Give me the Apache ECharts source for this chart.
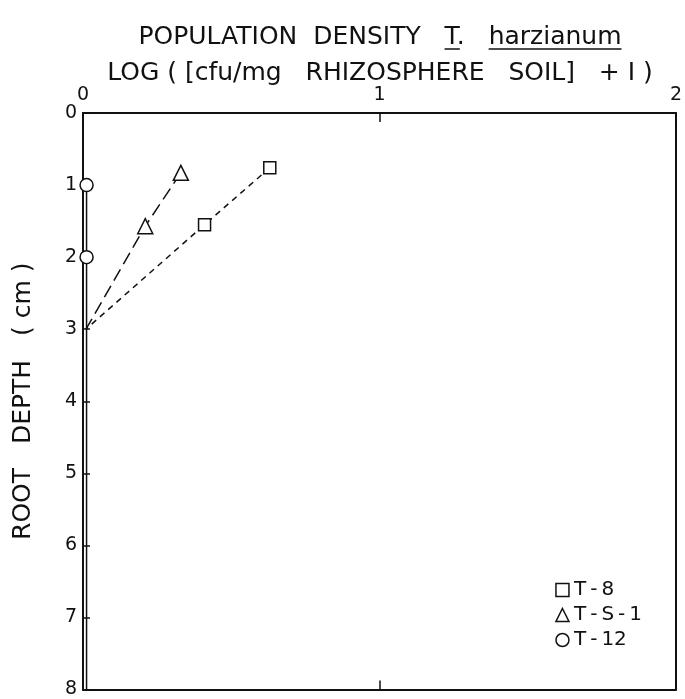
<!DOCTYPE html>
<html>
<head>
<meta charset="utf-8">
<script src="https://cdn.jsdelivr.net/npm/echarts@6/dist/echarts.min.js"></script>
<style>
  html, body { margin: 0; padding: 0; background: #fff; }
  #chart { width: 685px; height: 699px; }
</style>
</head>
<body>
<div id="chart"></div>
<script>
// log(cfu/mg + 1) vs root depth (cm)
var t8 = [[0.63, 0.76], [0.41, 1.55], [0.01, 3.0]];
var tS1 = [[0.33, 0.83], [0.21, 1.57], [0.01, 3.0]];
var t12 = [[0.012, 1], [0.012, 2], [0.012, 8]];
var seriesNames = ['T-8', 'T-S-1', 'T-12'];
var xTicks = ['0', '1', '2'];
var yTicks = ['0', '1', '2', '3', '4', '5', '6', '7', '8'];

var font = 'DejaVu Sans';
var titleSize = 25;
var titleX = 375;
var chart = echarts.init(document.getElementById('chart'), null, { renderer: 'canvas' });

// title pieces, measured so the underlines sit under "T" and "harzianum"
var pre = 'POPULATION  DENSITY   ', tWord = 'T', dot = '.', gap = '   ', hWord = 'harzianum';
var ctx = document.createElement('canvas').getContext('2d');
ctx.font = titleSize + 'px "' + font + '"';
function w(s) { return ctx.measureText(s).width; }
var line1W = w(pre + tWord + dot + gap + hWord);
var x0 = titleX + 5 - line1W / 2; // title padding is 5
var tx0 = x0 + w(pre), tx1 = tx0 + w(tWord);
var hx0 = x0 + w(pre + tWord + dot + gap), hx1 = hx0 + w(hWord);
var ulY = 49;

var option = {
  backgroundColor: '#fff',
  animation: false,
  title: {
    text: pre + tWord + dot + gap + hWord + '\nLOG ( [cfu/mg   RHIZOSPHERE   SOIL]   + I )',
    left: titleX,
    top: 14,
    textAlign: 'center',
    textStyle: {
      fontFamily: font,
      fontWeight: 'normal',
      fontSize: titleSize,
      lineHeight: 36,
      color: '#111'
    }
  },
  graphic: [
    { type: 'line', shape: { x1: tx0, y1: ulY, x2: tx1, y2: ulY }, style: { stroke: '#111', lineWidth: 1.5 } },
    { type: 'line', shape: { x1: hx0, y1: ulY, x2: hx1, y2: ulY }, style: { stroke: '#111', lineWidth: 1.5 } }
  ],
  legend: {
    orient: 'vertical',
    right: 38,
    bottom: 44,
    itemWidth: 13,
    itemHeight: 13,
    itemGap: 5,
    textStyle: { fontFamily: font, fontSize: 20, color: '#111' },
    formatter: function (name) { return name.replace(/-/g, '\u2009-\u2009'); },
    itemStyle: { color: '#fff', borderColor: '#111', borderWidth: 1.5 },
    data: [
      { name: seriesNames[0], icon: 'rect' },
      { name: seriesNames[1], icon: 'triangle' },
      { name: seriesNames[2], icon: 'circle' }
    ]
  },
  grid: { left: 83, right: 6, top: 113, bottom: 7 },
  xAxis: [{
    type: 'value',
    position: 'top',
    min: 0, max: 2, interval: 1,
    axisLine: { onZero: false, lineStyle: { color: '#111', width: 2 } },
    axisTick: { inside: true, length: 9, lineStyle: { color: '#111', width: 1.5 } },
    axisLabel: {
      fontFamily: font, fontSize: 19, color: '#111', margin: 8,
      formatter: function (v) { return xTicks[v]; }
    },
    splitLine: { show: false }
  }, {
    type: 'value',
    position: 'bottom',
    min: 0, max: 2, interval: 1,
    axisLine: { show: true, onZero: false, lineStyle: { color: '#111', width: 2 } },
    axisTick: { show: true, inside: true, length: 9, lineStyle: { color: '#111', width: 1.5 } },
    axisLabel: { show: false },
    splitLine: { show: false }
  }],
  yAxis: [{
    type: 'value',
    inverse: true,
    min: 0, max: 8, interval: 1,
    name: 'ROOT   DEPTH   ( cm )',
    nameLocation: 'middle',
    nameGap: 47,
    nameRotate: 90,
    nameTextStyle: { fontFamily: font, fontSize: 25, color: '#111' },
    axisLine: { onZero: false, lineStyle: { color: '#111', width: 2 } },
    axisTick: { inside: true, length: 7, lineStyle: { color: '#111', width: 1.5 } },
    axisLabel: {
      fontFamily: font, fontSize: 19, color: '#111', margin: 6,
      formatter: function (v) { return yTicks[v]; }
    },
    splitLine: { show: false }
  }, {
    type: 'value',
    inverse: true,
    position: 'right',
    min: 0, max: 8, interval: 1,
    axisLine: { show: true, onZero: false, lineStyle: { color: '#111', width: 2 } },
    axisTick: { show: false },
    axisLabel: { show: false },
    splitLine: { show: false }
  }],
  series: [{
    name: seriesNames[0],
    type: 'line',
    data: t8,
    symbol: function (v, p) { return p.dataIndex < 2 ? 'rect' : 'none'; },
    symbolSize: 12,
    itemStyle: { color: '#fff', borderColor: '#111', borderWidth: 1.5 },
    lineStyle: { color: '#111', width: 1.5, type: [6, 5] },
    z: 3
  }, {
    name: seriesNames[1],
    type: 'line',
    data: tS1,
    symbol: function (v, p) { return p.dataIndex < 2 ? 'triangle' : 'none'; },
    symbolSize: 15,
    itemStyle: { color: '#fff', borderColor: '#111', borderWidth: 1.5 },
    lineStyle: { color: '#111', width: 1.5, type: [13, 6] },
    z: 3
  }, {
    name: seriesNames[2],
    type: 'line',
    data: t12,
    symbol: function (v, p) { return p.dataIndex < 2 ? 'circle' : 'none'; },
    symbolSize: 13,
    itemStyle: { color: '#fff', borderColor: '#111', borderWidth: 1.5 },
    lineStyle: { color: '#111', width: 1.5 },
    z: 3
  }]
};

chart.setOption(option);
</script>
</body>
</html>
